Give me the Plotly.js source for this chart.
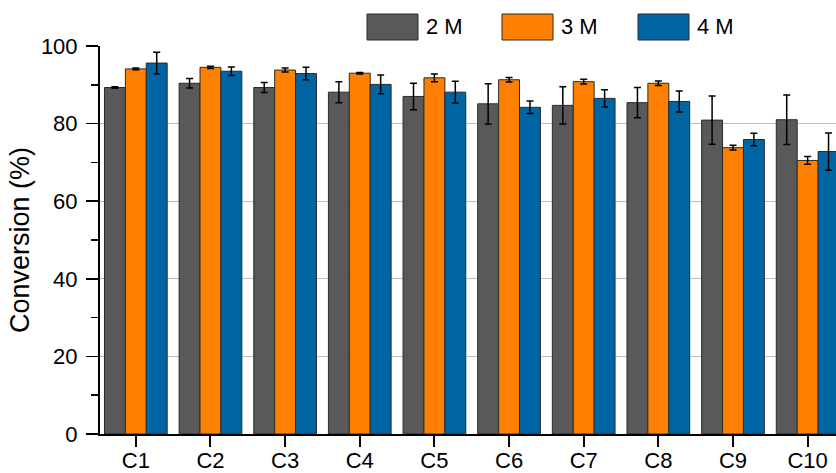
<!DOCTYPE html>
<html>
<head>
<meta charset="utf-8">
<script src="https://cdn.plot.ly/plotly-3.0.1.min.js"></script>
<style>
  html, body { margin: 0; padding: 0; background: #ffffff; }
  #chart { width: 836px; height: 473px; }
</style>
</head>
<body>
<div id="chart"></div>
<script>
// Catalysts on the x axis
const categories = ['C1', 'C2', 'C3', 'C4', 'C5', 'C6', 'C7', 'C8', 'C9', 'C10'];

// Series names (concentration)
const seriesNames = ['2 M', '3 M', '4 M'];
const seriesColors = ['#595959', '#FF8000', '#0066A3'];

// Conversion (%) per catalyst
const conv2M = [89.3, 90.4, 89.3, 88.1, 87.0, 85.1, 84.7, 85.4, 80.9, 81.0];
const conv3M = [94.1, 94.5, 93.8, 93.0, 91.8, 91.3, 90.8, 90.4, 73.8, 70.5];
const conv4M = [95.6, 93.5, 92.9, 90.1, 88.1, 84.2, 86.5, 85.7, 75.9, 72.8];

// Standard deviations
const err2M = [0.2, 1.2, 1.3, 2.7, 3.4, 5.2, 4.8, 3.9, 6.2, 6.4];
const err3M = [0.2, 0.3, 0.5, 0.2, 1.0, 0.55, 0.6, 0.6, 0.6, 1.0];
const err4M = [2.8, 1.1, 1.6, 2.4, 2.8, 1.6, 2.2, 2.7, 1.6, 4.8];

const values = [conv2M, conv3M, conv4M];
const errors = [err2M, err3M, err4M];

const FONT = 'Liberation Sans, Arial, sans-serif';

const traces = seriesNames.map((name, i) => ({
  type: 'bar',
  name: name,
  x: categories,
  y: values[i],
  marker: { color: seriesColors[i], line: { color: '#2a2a2a', width: 1 } },
  error_y: { type: 'data', array: errors[i], visible: true,
             color: '#000000', thickness: 1.5, width: 3.5 },
  showlegend: false,
  hoverinfo: 'x+y'
}));

// Plot area in pixels: left 100, right 836, top 46, bottom 434
const L = 100, R = 836, T = 46, B = 434;
const px2x = p => (p - L) / (R - L);
const px2y = p => (B - p) / (B - T);

// Legend drawn as large swatches with labels
const swatchLeft = [367, 502, 638];
const swatchW = 51, swatchTop = 14, swatchBot = 40;
const shapes = [];
const annotations = [];
seriesNames.forEach((name, i) => {
  shapes.push({
    type: 'rect', xref: 'paper', yref: 'paper',
    x0: px2x(swatchLeft[i]), x1: px2x(swatchLeft[i] + swatchW),
    y0: px2y(swatchBot), y1: px2y(swatchTop),
    fillcolor: seriesColors[i], line: { color: '#2a2a2a', width: 1 }
  });
  annotations.push({
    xref: 'paper', yref: 'paper',
    x: px2x(swatchLeft[i] + swatchW + 6), y: px2y((swatchTop + swatchBot) / 2),
    xanchor: 'left', yanchor: 'middle', showarrow: false,
    text: name, font: { family: FONT, size: 22, color: '#000000' }
  });
});

const layout = {
  width: 836, height: 473,
  margin: { l: L, r: 836 - R, t: T, b: 473 - B, pad: 0 },
  paper_bgcolor: '#ffffff', plot_bgcolor: '#ffffff',
  barmode: 'group', bargap: 0.16, bargroupgap: 0,
  showlegend: false,
  font: { family: FONT, size: 22, color: '#000000' },
  xaxis: {
    type: 'category',
    range: [-0.48, 9.38],
    showline: true, linecolor: '#000000', linewidth: 2,
    ticks: 'outside', ticklen: 11, tickwidth: 2, tickcolor: '#000000',
    ticklabelstandoff: -5,
    showgrid: false, zeroline: false,
    tickfont: { family: FONT, size: 22, color: '#000000' }
  },
  yaxis: {
    range: [0, 100], dtick: 20,
    showline: true, linecolor: '#000000', linewidth: 2,
    ticks: 'outside', ticklen: 12, tickwidth: 1.5, tickcolor: '#000000',
    ticklabelstandoff: 4,
    minor: { dtick: 10, ticks: 'outside', ticklen: 7, tickwidth: 1.5, tickcolor: '#000000', showgrid: false },
    showgrid: true, gridcolor: '#bdbdbd', gridwidth: 1,
    zeroline: false,
    tickfont: { family: FONT, size: 22, color: '#000000' },
    title: { text: 'Conversion (%)', font: { family: FONT, size: 27, color: '#000000' }, standoff: 3 }
  },
  shapes: shapes,
  annotations: annotations
};

Plotly.newPlot('chart', traces, layout, { displayModeBar: false, staticPlot: true });
</script>
</body>
</html>
